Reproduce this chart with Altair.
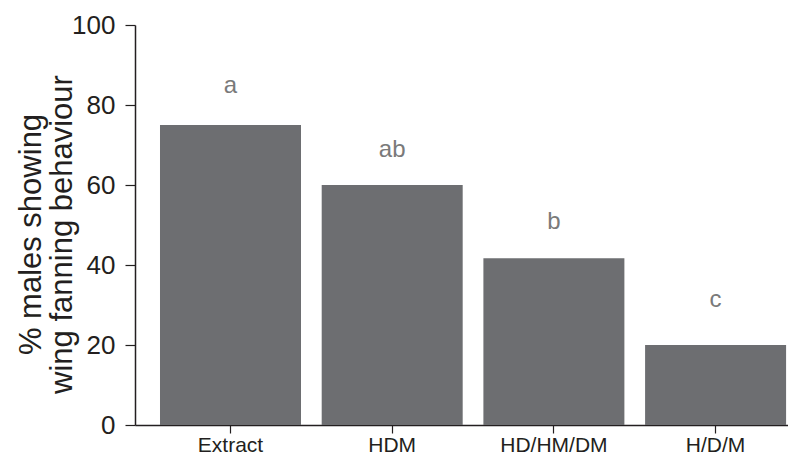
import altair as alt
import pandas as pd

treatments = ["Extract", "HDM", "HD/HM/DM", "H/D/M"]
percent_fanning = [75, 60, 41.7, 20]
letters = ["a", "ab", "b", "c"]
letter_pos = [83, 67, 49, 29.6]

df = pd.DataFrame({
    "treatment": treatments,
    "pct": percent_fanning,
    "letter": letters,
    "lpos": letter_pos,
})

FONT = "Liberation Sans"
DARK = "#231f20"

x = alt.X(
    "treatment:N",
    sort=treatments,
    scale=alt.Scale(paddingInner=0.128, paddingOuter=0.0832, align=0.929),
    axis=alt.Axis(
        title=None,
        labelAngle=0,
        labelFont=FONT,
        labelFontSize=21,
        labelColor=DARK,
        labelPadding=1,
        tickSize=8,
        tickColor=DARK,
        tickWidth=1.2,
        domainColor=DARK,
        domainWidth=1.5,
    ),
)

bars = alt.Chart(df).mark_bar(color="#6d6e71").encode(
    x=x,
    y=alt.Y(
        "pct:Q",
        scale=alt.Scale(domain=[0, 100], nice=False),
        axis=alt.Axis(
            values=[0, 20, 40, 60, 80, 100],
            title=["% males showing", "wing fanning behaviour"],
            titleFont=FONT,
            titleFontSize=31,
            titleFontWeight="normal",
            titleColor=DARK,
            titleLineHeight=31,
            titleAngle=-90,
            titleBaseline="alphabetic",
            titleX=-95,
            titleY=209,
            titleAlign="center",
            labelFont=FONT,
            labelFontSize=26,
            labelColor=DARK,
            labelPadding=10,
            tickSize=10,
            tickColor=DARK,
            tickWidth=1.2,
            domainColor=DARK,
            domainWidth=1.5,
            grid=False,
        ),
    ),
)

text = alt.Chart(df).mark_text(
    font=FONT, fontSize=24, color="#7a7a7a", baseline="alphabetic", align="center"
).encode(
    x=alt.X("treatment:N", sort=treatments),
    y=alt.Y("lpos:Q"),
    text="letter:N",
)

chart = (
    alt.layer(bars, text)
    .properties(
        width=653,
        height=400,
        autosize=alt.AutoSizeParams(type="none"),
        padding={"left": 127, "top": 17, "right": 0, "bottom": 33},
    )
    .configure_view(stroke=None)
)

chart.save("out.html", embed_options={"renderer": "svg", "actions": False})
